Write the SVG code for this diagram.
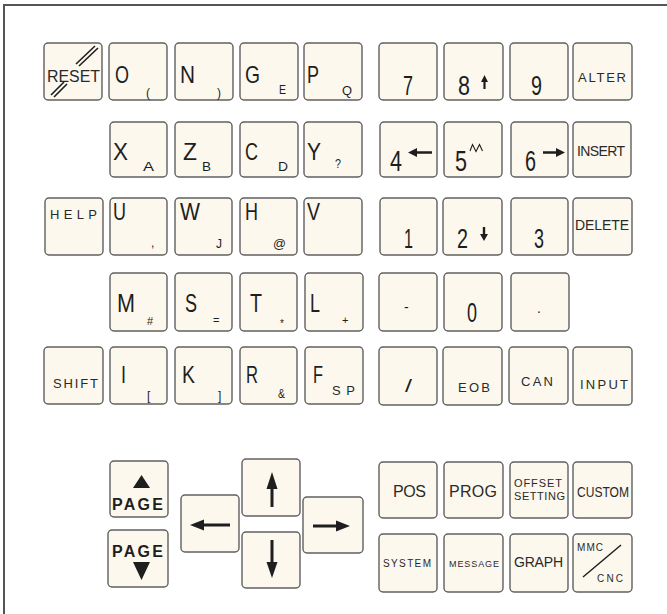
<svg xmlns="http://www.w3.org/2000/svg" width="667" height="614" viewBox="0 0 667 614">
<style>
.k{fill:#fcf8ee;stroke:#606060;stroke-width:1.4}
text{font-family:"Liberation Sans",Arial,sans-serif;fill:#1e1e1e}
.m{font-size:24px}
.s{font-size:12px}
.d{font-size:27px}
.w{font-size:13px;fill:#2a2a2a}
.b{font-weight:bold}
.ln{stroke:#1e1e1e;fill:none}
.ah{fill:#1e1e1e}
</style>
<rect width="667" height="614" fill="#ffffff"/>
<path d="M4 614 V5 H667" fill="none" stroke="#555" stroke-width="2"/>

<g id="key-reset"><rect class="k" x="44" y="43" width="58" height="57" rx="4"/>
<text class="w" x="47" y="82" style="font-size:16px" textLength="53" lengthAdjust="spacingAndGlyphs">RESET</text>
<path class="ln" stroke-width="1.6" d="M76 64L95 46M79 66L98 48M51 95L64 82M54 97L67 84"/></g>
<g id="key-o"><rect class="k" x="109" y="43" width="58" height="57" rx="4"/><text class="m" x="115" y="83" textLength="14" lengthAdjust="spacingAndGlyphs">O</text><text class="s" x="146" y="97">(</text></g>
<g id="key-n"><rect class="k" x="175" y="43" width="58" height="57" rx="4"/><text class="m" x="180" y="83" textLength="15" lengthAdjust="spacingAndGlyphs">N</text><text class="s" x="217" y="97">)</text></g>
<g id="key-g"><rect class="k" x="240" y="43" width="58" height="57" rx="4"/><text class="m" x="245" y="83" textLength="15" lengthAdjust="spacingAndGlyphs">G</text><text class="s" x="279" y="94" textLength="7" lengthAdjust="spacingAndGlyphs">E</text></g>
<g id="key-p"><rect class="k" x="304" y="43" width="58" height="57" rx="4"/><text class="m" x="307" y="83" textLength="12" lengthAdjust="spacingAndGlyphs">P</text><text class="s" x="342" y="95" textLength="10" lengthAdjust="spacingAndGlyphs">Q</text></g>
<g id="key-7"><rect class="k" x="379" y="43" width="58" height="57" rx="4"/><text class="d" x="403" y="95" textLength="10" lengthAdjust="spacingAndGlyphs">7</text></g>
<g id="key-8"><rect class="k" x="444" y="43" width="59" height="57" rx="4"/><text class="d" x="458" y="95" textLength="12" lengthAdjust="spacingAndGlyphs">8</text><path class="ah" d="M481 82L484.5 75L488 82H485.6V89H483.4V82Z"/></g>
<g id="key-9"><rect class="k" x="510" y="43" width="58" height="57" rx="4"/><text class="d" x="531" y="95" textLength="11" lengthAdjust="spacingAndGlyphs">9</text></g>
<g id="key-alter"><rect class="k" x="573" y="43" width="59" height="57" rx="4"/><text class="w" x="578" y="82" textLength="48" lengthAdjust="spacing">ALTER</text></g>

<g id="key-x"><rect class="k" x="110" y="122" width="57" height="55" rx="4"/><text class="m" x="113" y="160" textLength="15" lengthAdjust="spacingAndGlyphs">X</text><text class="s" x="143" y="171" textLength="11" lengthAdjust="spacingAndGlyphs">A</text></g>
<g id="key-z"><rect class="k" x="175" y="122" width="57" height="55" rx="4"/><text class="m" x="183" y="160" textLength="14" lengthAdjust="spacingAndGlyphs">Z</text><text class="s" x="202" y="171" textLength="9" lengthAdjust="spacingAndGlyphs">B</text></g>
<g id="key-c"><rect class="k" x="240" y="122" width="58" height="55" rx="4"/><text class="m" x="245" y="160" textLength="13" lengthAdjust="spacingAndGlyphs">C</text><text class="s" x="278" y="171" textLength="10" lengthAdjust="spacingAndGlyphs">D</text></g>
<g id="key-y"><rect class="k" x="304" y="122" width="58" height="55" rx="4"/><text class="m" x="307" y="160" textLength="14" lengthAdjust="spacingAndGlyphs">Y</text><text class="s" x="335" y="168" textLength="6" lengthAdjust="spacingAndGlyphs">?</text></g>
<g id="key-4"><rect class="k" x="380" y="122" width="57" height="55" rx="4"/><text class="d" x="390" y="171" style="font-size:29px" textLength="12" lengthAdjust="spacingAndGlyphs">4</text><path class="ah" d="M408 152.5L417 148V151.3H432V153.7H417V157Z"/></g>
<g id="key-5"><rect class="k" x="444" y="122" width="58" height="55" rx="4"/><text class="d" x="455" y="171" style="font-size:29px" textLength="12" lengthAdjust="spacingAndGlyphs">5</text><polyline class="ln" stroke-width="1.1" points="470,151 472.5,144.5 476,151.5 479.5,144.5 482.5,151"/></g>
<g id="key-6"><rect class="k" x="511" y="122" width="57" height="55" rx="4"/><text class="d" x="525" y="171" style="font-size:29px" textLength="11" lengthAdjust="spacingAndGlyphs">6</text><path class="ah" d="M565 152.5L556 148V151.3H543V153.7H556V157Z"/></g>
<g id="key-insert"><rect class="k" x="573" y="122" width="58" height="55" rx="4"/><text class="w" x="577" y="156" style="font-size:14px" textLength="48" lengthAdjust="spacing">INSERT</text></g>

<g id="key-help"><rect class="k" x="45" y="198" width="58" height="57" rx="4"/><text class="w" x="50" y="219" textLength="47" lengthAdjust="spacing">HELP</text></g>
<g id="key-u"><rect class="k" x="110" y="198" width="57" height="57" rx="4"/><text class="m" x="113" y="220" textLength="13" lengthAdjust="spacingAndGlyphs">U</text><text class="s" x="151" y="247">,</text></g>
<g id="key-w"><rect class="k" x="175" y="198" width="57" height="57" rx="4"/><text class="m" x="180" y="220" textLength="20" lengthAdjust="spacingAndGlyphs">W</text><text class="s" x="216" y="248" textLength="6" lengthAdjust="spacingAndGlyphs">J</text></g>
<g id="key-h"><rect class="k" x="240" y="198" width="57" height="57" rx="4"/><text class="m" x="245" y="220" textLength="13" lengthAdjust="spacingAndGlyphs">H</text><text class="s" x="273" y="248" textLength="13" lengthAdjust="spacingAndGlyphs">@</text></g>
<g id="key-v"><rect class="k" x="304" y="198" width="58" height="57" rx="4"/><text class="m" x="307" y="220" textLength="13" lengthAdjust="spacingAndGlyphs">V</text></g>
<g id="key-1"><rect class="k" x="380" y="198" width="57" height="57" rx="4"/><text class="d" x="404" y="248" textLength="9" lengthAdjust="spacingAndGlyphs">1</text></g>
<g id="key-2"><rect class="k" x="443" y="198" width="59" height="57" rx="4"/><text class="d" x="457" y="248" textLength="11" lengthAdjust="spacingAndGlyphs">2</text><path class="ah" d="M480 234L484 241L488 234H485.2V227H482.8V234Z"/></g>
<g id="key-3"><rect class="k" x="511" y="198" width="57" height="57" rx="4"/><text class="d" x="534" y="248" textLength="10" lengthAdjust="spacingAndGlyphs">3</text></g>
<g id="key-delete"><rect class="k" x="573" y="198" width="59" height="57" rx="4"/><text class="w" x="575" y="230" style="font-size:14px" textLength="54" lengthAdjust="spacing">DELETE</text></g>

<g id="key-m"><rect class="k" x="110" y="273" width="57" height="58" rx="4"/><text class="m" x="117" y="312" style="font-size:26px" textLength="18" lengthAdjust="spacingAndGlyphs">M</text><text class="s" x="147" y="325" style="font-size:11px">#</text></g>
<g id="key-s"><rect class="k" x="175" y="273" width="57" height="58" rx="4"/><text class="m" x="185" y="312" style="font-size:26px" textLength="12" lengthAdjust="spacingAndGlyphs">S</text><text class="s" x="213" y="324" style="font-size:11px">=</text></g>
<g id="key-t"><rect class="k" x="240" y="273" width="57" height="58" rx="4"/><text class="m" x="250" y="312" style="font-size:26px" textLength="12" lengthAdjust="spacingAndGlyphs">T</text><text class="s" x="280" y="327" style="font-size:10px">*</text></g>
<g id="key-l"><rect class="k" x="305" y="273" width="58" height="58" rx="4"/><text class="m" x="310" y="312" style="font-size:26px" textLength="10" lengthAdjust="spacingAndGlyphs">L</text><text class="s" x="342" y="324" style="font-size:11px">+</text></g>
<g id="key-minus"><rect class="k" x="379" y="273" width="58" height="58" rx="4"/><text class="s" x="404" y="312" style="font-size:14px">-</text></g>
<g id="key-0"><rect class="k" x="444" y="273" width="58" height="58" rx="4"/><text class="d" x="467" y="322" textLength="10" lengthAdjust="spacingAndGlyphs">0</text></g>
<g id="key-dot"><rect class="k" x="511" y="273" width="58" height="58" rx="4"/><text class="s" x="537" y="313" style="font-size:14px">.</text></g>

<g id="key-shift"><rect class="k" x="44" y="347" width="59" height="57" rx="4"/><text class="w" x="53" y="388" textLength="45" lengthAdjust="spacing">SHIFT</text></g>
<g id="key-i"><rect class="k" x="110" y="347" width="57" height="57" rx="4"/><text class="m" x="121" y="383" textLength="5" lengthAdjust="spacingAndGlyphs">I</text><text class="s" x="147" y="400">[</text></g>
<g id="key-k"><rect class="k" x="175" y="347" width="57" height="57" rx="4"/><text class="m" x="182" y="383" textLength="13" lengthAdjust="spacingAndGlyphs">K</text><text class="s" x="218" y="400">]</text></g>
<g id="key-r"><rect class="k" x="240" y="347" width="57" height="57" rx="4"/><text class="m" x="246" y="383" textLength="12" lengthAdjust="spacingAndGlyphs">R</text><text class="s" x="278" y="398" textLength="7" lengthAdjust="spacingAndGlyphs">&amp;</text></g>
<g id="key-f"><rect class="k" x="305" y="347" width="58" height="57" rx="4"/><text class="m" x="313" y="383" textLength="10" lengthAdjust="spacingAndGlyphs">F</text><text class="w" x="332" y="395" textLength="23" lengthAdjust="spacing">SP</text></g>
<g id="key-slash"><rect class="k" x="379" y="347" width="58" height="58" rx="4"/><text class="s" x="405" y="392" style="font-size:18px" textLength="7" lengthAdjust="spacingAndGlyphs">/</text></g>
<g id="key-eob"><rect class="k" x="443" y="347" width="59" height="58" rx="4"/><text class="w" x="458" y="392" textLength="32" lengthAdjust="spacing">EOB</text></g>
<g id="key-can"><rect class="k" x="509" y="347" width="59" height="57" rx="4"/><text class="w" x="521" y="386" textLength="32" lengthAdjust="spacing">CAN</text></g>
<g id="key-input"><rect class="k" x="573" y="347" width="59" height="58" rx="4"/><text class="w" x="580" y="389" textLength="48" lengthAdjust="spacing">INPUT</text></g>

<g id="key-page-up"><rect class="k" x="110" y="461" width="58" height="56" rx="4"/><path class="ah" d="M133 488L141.5 475L150 488Z"/><text class="b" x="112" y="510" style="font-size:16px" textLength="51" lengthAdjust="spacing">PAGE</text></g>
<g id="key-page-down"><rect class="k" x="108" y="530" width="60" height="57" rx="4"/><text class="b" x="112" y="557" style="font-size:16px" textLength="51" lengthAdjust="spacing">PAGE</text><path class="ah" d="M133 562L150 562L141.5 580Z"/></g>
<g id="key-left"><rect class="k" x="181" y="495" width="58" height="57" rx="4"/><path class="ah" d="M190 525L204 519.5V523.6H230V526.4H204V530.5Z"/></g>
<g id="key-up"><rect class="k" x="242" y="459" width="58" height="57" rx="4"/><path class="ah" d="M272 472L277.5 489H273.5V507H270.5V489H266.5Z"/></g>
<g id="key-down"><rect class="k" x="242" y="532" width="58" height="56" rx="4"/><path class="ah" d="M272 578L277.5 562H273.5V540H270.5V562H266.5Z"/></g>
<g id="key-right"><rect class="k" x="303" y="497" width="60" height="56" rx="4"/><path class="ah" d="M350 526L336 520.5V524.6H313V527.4H336V531.5Z"/></g>

<g id="key-pos"><rect class="k" x="379" y="462" width="58" height="56" rx="4"/><text class="w" x="393" y="497" style="font-size:16px" textLength="33" lengthAdjust="spacing">POS</text></g>
<g id="key-prog"><rect class="k" x="444" y="462" width="59" height="56" rx="4"/><text class="w" x="449" y="497" style="font-size:16px" textLength="48" lengthAdjust="spacing">PROG</text></g>
<g id="key-offset"><rect class="k" x="510" y="462" width="58" height="56" rx="4"/><text class="w" x="514" y="487" style="font-size:11px" textLength="48" lengthAdjust="spacing">OFFSET</text><text class="w" x="514" y="500" style="font-size:11px" textLength="51" lengthAdjust="spacing">SETTING</text></g>
<g id="key-custom"><rect class="k" x="573" y="462" width="59" height="56" rx="4"/><text class="w" x="577" y="497" style="font-size:14px" textLength="52" lengthAdjust="spacingAndGlyphs">CUSTOM</text></g>
<g id="key-system"><rect class="k" x="379" y="534" width="58" height="58" rx="4"/><text class="w" x="383" y="567" style="font-size:10px" textLength="48" lengthAdjust="spacing">SYSTEM</text></g>
<g id="key-message"><rect class="k" x="444" y="534" width="59" height="58" rx="4"/><text class="w" x="449" y="567" style="font-size:9px" textLength="50" lengthAdjust="spacing">MESSAGE</text></g>
<g id="key-graph"><rect class="k" x="510" y="534" width="58" height="58" rx="4"/><text class="w" x="514" y="567" style="font-size:14px" textLength="49" lengthAdjust="spacing">GRAPH</text></g>
<g id="key-mmc-cnc"><rect class="k" x="573" y="534" width="59" height="58" rx="4"/><text class="w" x="577" y="551" style="font-size:10px" textLength="26" lengthAdjust="spacing">MMC</text><text class="w" x="597" y="582" style="font-size:10px" textLength="26" lengthAdjust="spacing">CNC</text><line class="ln" stroke-width="1.5" x1="583" y1="577" x2="621" y2="545"/></g>
<g id="connectors"></g>
</svg>
